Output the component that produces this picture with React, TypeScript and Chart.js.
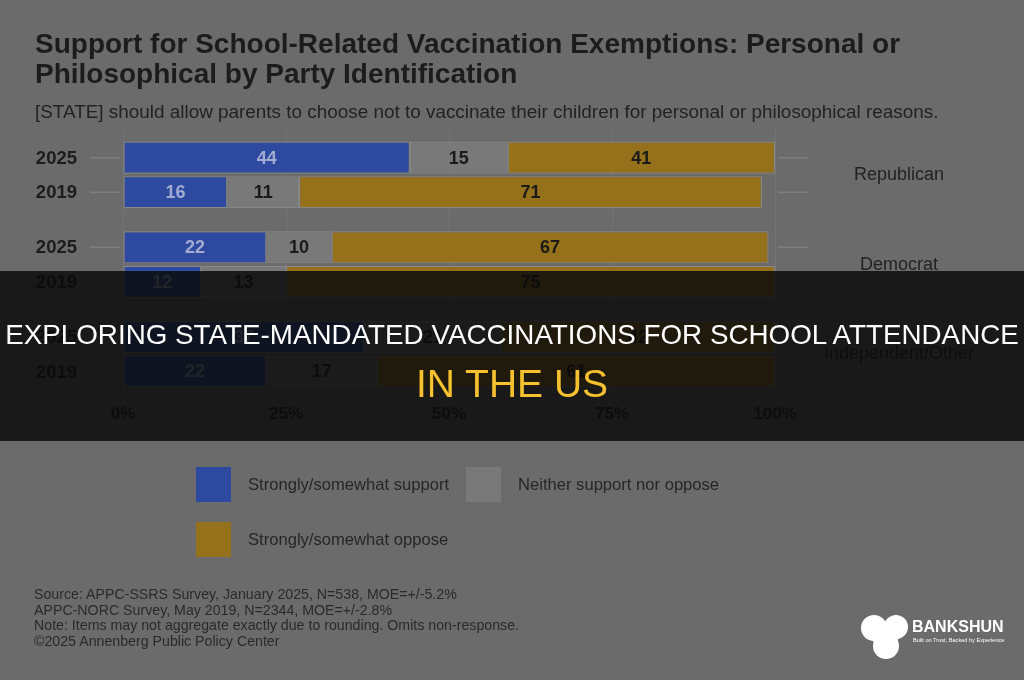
import React, { useEffect, useRef } from 'react';
import { Chart, registerables } from 'chart.js';

Chart.register(...registerables);

const FONT = '"Liberation Sans", Arial, Helvetica, sans-serif';

const titleLines = [
  'Support for School-Related Vaccination Exemptions: Personal or',
  'Philosophical by Party Identification',
];
const subtitleText =
  '[STATE] should allow parents to choose not to vaccinate their children for personal or philosophical reasons.';

const parties = ['Republican', 'Democrat', 'Independent/Other'];
const years = ['2025', '2019'];

const support2025 = [44, 22, 37];
const neither2025 = [15, 10, 21];
const oppose2025 = [41, 67, 42];
const support2019 = [16, 12, 22];
const neither2019 = [11, 13, 17];
const oppose2019 = [71, 75, 61];

const xTickValues = [0, 25, 50, 75, 100];

const responseLabels = [
  'Strongly/somewhat support',
  'Neither support nor oppose',
  'Strongly/somewhat oppose',
];
const responseColors = ['#2d4aa0', '#797979', '#94711a'];
const valueLabelColors = ['#a3acd0', '#1a1a1a', '#1a1a1a'];

const sourceLines = [
  'Source: APPC-SSRS Survey, January 2025, N=538, MOE=+/-5.2%',
  'APPC-NORC Survey, May 2019, N=2344, MOE=+/-2.8%',
  'Note: Items may not aggregate exactly due to rounding. Omits non-response.',
  '\u00A92025 Annenberg Public Policy Center',
];

const bannerLine1 = 'EXPLORING STATE-MANDATED VACCINATIONS FOR SCHOOL ATTENDANCE';
const bannerLine2 = 'IN THE US';
const brandName = 'BANKSHUN';
const brandTagline = 'Built on Trust, Backed by Experience';

const annotatePlugin = {
  id: 'annotate',
  afterDatasetsDraw(chart: any) {
    const ctx = chart.ctx;
    const area = chart.chartArea;
    ctx.save();
    chart.data.datasets.forEach((ds: any, i: number) => {
      const meta = chart.getDatasetMeta(i);
      meta.data.forEach((bar: any, j: number) => {
        const p = bar.getProps(['x', 'y', 'base'], true);
        ctx.fillStyle = ds.valueColor;
        ctx.font = 'bold 18px ' + FONT;
        ctx.textAlign = 'center';
        ctx.textBaseline = 'middle';
        ctx.fillText(String(ds.data[j]), (p.x + p.base) / 2, p.y + 1);
      });
    });
    const firstOfStack = [0, 3];
    firstOfStack.forEach((di, k) => {
      const meta = chart.getDatasetMeta(di);
      meta.data.forEach((bar: any) => {
        const y = bar.getProps(['y'], true).y;
        ctx.strokeStyle = '#7e7e7e';
        ctx.lineWidth = 1.5;
        ctx.beginPath();
        ctx.moveTo(area.left - 33, y);
        ctx.lineTo(area.left - 3, y);
        ctx.moveTo(area.right + 3, y);
        ctx.lineTo(area.right + 33, y);
        ctx.stroke();
        ctx.fillStyle = '#1c1c1c';
        ctx.font = 'bold 18.5px ' + FONT;
        ctx.textAlign = 'right';
        ctx.textBaseline = 'middle';
        ctx.fillText(years[k], area.left - 46, y + 1);
      });
    });
    ctx.restore();
  },
};

function ChartCanvas() {
  const ref = useRef<HTMLCanvasElement | null>(null);
  useEffect(() => {
    if (!ref.current) return;
    const mk = (label: string, data: number[], idx: number, stack: string) => ({
      label,
      data,
      stack,
      backgroundColor: responseColors[idx],
      borderColor: '#888888',
      borderWidth: 1.2,
      borderSkipped: false,
      valueColor: valueLabelColors[idx],
    });
    const chart = new Chart(ref.current, {
      type: 'bar',
      data: {
        labels: parties,
        datasets: [
          mk(responseLabels[0] + ' ' + years[0], support2025, 0, years[0]),
          mk(responseLabels[1] + ' ' + years[0], neither2025, 1, years[0]),
          mk(responseLabels[2] + ' ' + years[0], oppose2025, 2, years[0]),
          mk(responseLabels[0] + ' ' + years[1], support2019, 0, years[1]),
          mk(responseLabels[1] + ' ' + years[1], neither2019, 1, years[1]),
          mk(responseLabels[2] + ' ' + years[1], oppose2019, 2, years[1]),
        ] as any,
      },
      options: {
        indexAxis: 'y',
        animation: false,
        responsive: false,
        maintainAspectRatio: false,
        events: [],
        layout: { padding: { left: 35, right: 0, top: 0, bottom: 251 } },
        datasets: { bar: { categoryPercentage: 0.771, barPercentage: 0.93 } },
        plugins: {
          legend: { display: false },
          tooltip: { enabled: false },
          title: {
            display: true,
            text: titleLines,
            align: 'start',
            color: '#1c1c1c',
            font: { family: FONT, size: 28, weight: 'bold', lineHeight: 1.07 },
            padding: { top: 30, bottom: 8 },
          },
          subtitle: {
            display: true,
            text: subtitleText,
            align: 'start',
            color: '#222222',
            font: { family: FONT, size: 18.9, lineHeight: 1.2 },
            padding: { top: 4, bottom: 5.5 },
          },
        },
        scales: {
          x: {
            type: 'linear',
            stacked: true,
            min: 0,
            max: 100,
            grid: { color: '#757575', drawTicks: false, lineWidth: 1 },
            border: { display: false },
            afterBuildTicks: (s: any) => {
              s.ticks = xTickValues.map((v) => ({ value: v }));
            },
            ticks: {
              padding: 5,
              color: '#1c1c1c',
              font: { family: FONT, size: 17, weight: 'bold' },
              callback: (v: any) => v + '%',
            },
            afterFit: (s: any) => {
              s.height = 30;
            },
          },
          y: {
            type: 'category',
            stacked: true,
            position: 'left',
            grid: { display: false },
            border: { display: false },
            ticks: { display: false },
            afterFit: (s: any) => {
              s.width = 88;
            },
          },
          y2: {
            type: 'category',
            labels: parties,
            offset: true,
            position: 'right',
            grid: { display: false, drawTicks: false },
            border: { display: false },
            ticks: {
              crossAlign: 'center',
              padding: 49,
              color: '#222222',
              font: { family: FONT, size: 18 },
            },
            afterFit: (s: any) => {
              s.width = 249;
            },
          },
        },
      } as any,
      plugins: [annotatePlugin],
    });
    return () => chart.destroy();
  }, []);
  return (
    <canvas
      ref={ref}
      width={1024}
      height={680}
      style={{ position: 'absolute', left: 0, top: 0, width: 1024, height: 680 }}
    />
  );
}

export default function App() {
  return (
    <div
      style={{
        position: 'fixed',
        left: 0,
        top: 0,
        width: 1024,
        height: 680,
        overflow: 'hidden',
        background: '#6b6b6b',
        fontFamily: FONT,
      }}
    >
      <ChartCanvas />
      {responseLabels.map((lab, i) => (
        <div
          key={lab}
          style={{
            position: 'absolute',
            left: i === 1 ? 466 : 196,
            top: i === 2 ? 522 : 467,
            height: 35,
            display: 'flex',
            alignItems: 'center',
          }}
        >
          <div style={{ width: 35, height: 35, background: responseColors[i] }} />
          <div style={{ marginLeft: 17, fontSize: 16.6, color: '#262626', whiteSpace: 'nowrap' }}>{lab}</div>
        </div>
      ))}
      <div
        style={{
          position: 'absolute',
          left: 34,
          top: 587,
          fontSize: 14.2,
          lineHeight: '15.5px',
          color: '#2a2a2a',
          whiteSpace: 'nowrap',
        }}
      >
        {sourceLines.map((l) => (
          <div key={l}>{l}</div>
        ))}
      </div>
      <div
        style={{
          position: 'absolute',
          left: 0,
          top: 271,
          width: 1024,
          height: 170,
          background: 'rgba(10,10,10,0.84)',
        }}
      />
      <div
        style={{
          position: 'absolute',
          left: 0,
          top: 321,
          width: 1024,
          textAlign: 'center',
          fontSize: 27.8,
          lineHeight: 1,
          color: '#ffffff',
          whiteSpace: 'nowrap',
        }}
      >
        {bannerLine1}
      </div>
      <div
        style={{
          position: 'absolute',
          left: 0,
          top: 364,
          width: 1024,
          textAlign: 'center',
          fontSize: 39,
          lineHeight: 1,
          color: '#f5c12e',
          whiteSpace: 'nowrap',
        }}
      >
        {bannerLine2}
      </div>
      <svg width={60} height={55} style={{ position: 'absolute', left: 855, top: 610 }}>
        <circle cx={19} cy={18} r={13} fill="#ffffff" />
        <circle cx={41} cy={17} r={12} fill="#ffffff" />
        <ellipse cx={31} cy={36} rx={13} ry={13} fill="#ffffff" />
        <ellipse cx={30} cy={26} rx={14} ry={10} fill="#ffffff" />
      </svg>
      <div
        style={{
          position: 'absolute',
          left: 912,
          top: 619,
          fontSize: 16,
          fontWeight: 'bold',
          color: '#ffffff',
          lineHeight: 1,
          whiteSpace: 'nowrap',
        }}
      >
        {brandName}
      </div>
      <div
        style={{
          position: 'absolute',
          left: 913,
          top: 638,
          fontSize: 5.6,
          color: '#ffffff',
          lineHeight: 1,
          whiteSpace: 'nowrap',
        }}
      >
        {brandTagline}
      </div>
    </div>
  );
}
